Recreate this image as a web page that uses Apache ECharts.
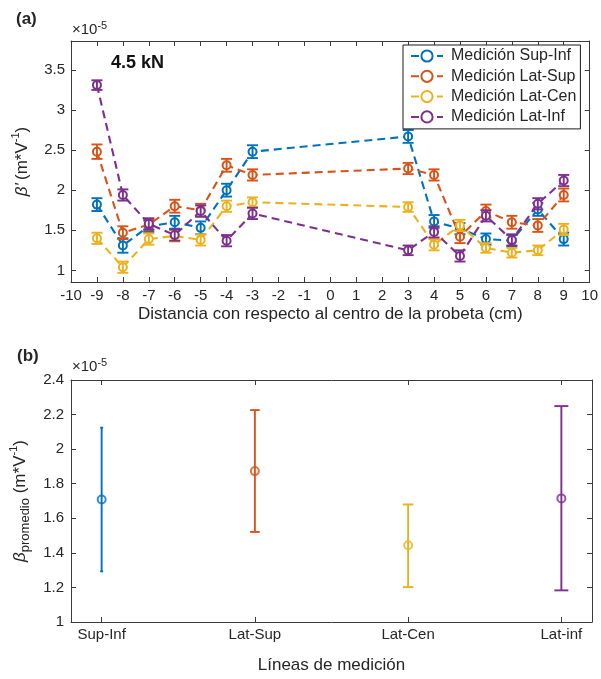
<!DOCTYPE html>
<html>
<head>
<meta charset="utf-8">
<script src="https://cdn.jsdelivr.net/npm/echarts@6/dist/echarts.min.js"></script>
<style>
html,body{margin:0;padding:0;background:#fff;}
#chart{width:601px;height:679px;}
</style>
</head>
<body>
<div id="chart"></div>
<script>
// ---------- DATA (values in units of 1e-5 m*V^-1) ----------
const positions = [-9, -8, -7, -6, -5, -4, -3, 3, 4, 5, 6, 7, 8, 9];
const supInf = [1.82, 1.31, 1.55, 1.60, 1.53, 2.00, 2.48, 2.67, 1.61, 1.52, 1.39, 1.37, 1.76, 1.39];
const latSup = [2.48, 1.47, 1.57, 1.80, 1.75, 2.31, 2.19, 2.27, 2.19, 1.42, 1.74, 1.60, 1.56, 1.94];
const latCen = [1.40, 1.04, 1.39, 1.43, 1.38, 1.80, 1.85, 1.79, 1.32, 1.56, 1.28, 1.22, 1.25, 1.51];
const latInf = [3.31, 1.94, 1.58, 1.44, 1.74, 1.37, 1.71, 1.25, 1.48, 1.18, 1.68, 1.38, 1.83, 2.12];
const errSupInf = [0.08, 0.09, 0.07, 0.08, 0.08, 0.08, 0.08, 0.08, 0.08, 0.07, 0.07, 0.07, 0.08, 0.08];
const errLatSup = [0.09, 0.08, 0.07, 0.08, 0.08, 0.08, 0.07, 0.07, 0.07, 0.08, 0.08, 0.08, 0.08, 0.08];
const errLatCen = [0.07, 0.07, 0.07, 0.07, 0.07, 0.07, 0.06, 0.06, 0.07, 0.07, 0.06, 0.06, 0.06, 0.07];
const errLatInf = [0.06, 0.07, 0.07, 0.07, 0.07, 0.07, 0.07, 0.06, 0.07, 0.07, 0.07, 0.07, 0.07, 0.07];
const seriesNames = ['Medición Sup-Inf', 'Medición Lat-Sup', 'Medición Lat-Cen', 'Medición Lat-Inf'];
const xTicksTop = [-10, -9, -8, -7, -6, -5, -4, -3, -2, -1, 0, 1, 2, 3, 4, 5, 6, 7, 8, 9, 10];
const yTicksTop = [1, 1.5, 2, 2.5, 3, 3.5];

const lineNames = ['Sup-Inf', 'Lat-Sup', 'Lat-Cen', 'Lat-inf'];
const avgBeta = [1.709, 1.873, 1.444, 1.715];
const avgLow = [1.293, 1.521, 1.202, 1.183];
const avgHigh = [2.124, 2.226, 1.680, 2.249];
const yTicksBottom = [1, 1.2, 1.4, 1.6, 1.8, 2, 2.2, 2.4];

// ---------- STYLE ----------
const colors = ['#0072BD', '#D95319', '#EDB120', '#7E2F8E'];
const FONT = 'Liberation Sans, Arial, Helvetica, sans-serif';
const TXT = '#262626';
const AX = '#3a3a3a';
const capHalfBottom = [1.5, 4.8, 5.3, 7];

const chart = echarts.init(document.getElementById('chart'), null, {renderer: 'canvas'});

function errRender(capFn) {
  return function (params, api) {
    const x = api.value(0), lo = api.value(1), hi = api.value(2);
    const pLo = api.coord([x, lo]);
    const pHi = api.coord([x, hi]);
    const cap = capFn(params.dataIndex);
    const style = {stroke: api.visual('color'), lineWidth: 1.9, fill: null};
    return {
      type: 'group',
      children: [
        {type: 'line', shape: {x1: pLo[0], y1: pLo[1], x2: pHi[0], y2: pHi[1]}, style: style},
        {type: 'line', shape: {x1: pLo[0] - cap, y1: pLo[1], x2: pLo[0] + cap, y2: pLo[1]}, style: style},
        {type: 'line', shape: {x1: pHi[0] - cap, y1: pHi[1], x2: pHi[0] + cap, y2: pHi[1]}, style: style}
      ]
    };
  };
}

const valsTop = [supInf, latSup, latCen, latInf];
const errsTop = [errSupInf, errLatSup, errLatCen, errLatInf];

const series = [];
valsTop.forEach(function (vals, k) {
  series.push({
    name: seriesNames[k],
    type: 'line',
    xAxisIndex: 0, yAxisIndex: 0,
    data: positions.map(function (p, i) { return [p, vals[i]]; }),
    symbol: 'emptyCircle',
    symbolSize: 8,
    color: colors[k],
    itemStyle: {color: colors[k], borderWidth: 1.8},
    lineStyle: {color: colors[k], width: 2.1, type: [8, 5]},
    z: 2 + k * 2,
    silent: true
  });
  series.push({
    name: 'err' + k,
    type: 'custom',
    xAxisIndex: 0, yAxisIndex: 0,
    data: positions.map(function (p, i) { return [p, vals[i] - errsTop[k][i], vals[i] + errsTop[k][i]]; }),
    encode: {x: 0, y: [1, 2]},
    itemStyle: {color: colors[k]},
    renderItem: errRender(function () { return 5.5; }),
    z: 3 + k * 2,
    silent: true
  });
});

series.push({
  name: 'promedio',
  type: 'scatter',
  xAxisIndex: 2, yAxisIndex: 2,
  data: avgBeta.map(function (v, i) { return {value: [i + 1, v], itemStyle: {color: colors[i]}}; }),
  symbol: 'emptyCircle',
  symbolSize: 8,
  itemStyle: {borderWidth: 1.9},
  z: 2,
  silent: true
});
series.push({
  name: 'promedioErr',
  type: 'custom',
  xAxisIndex: 2, yAxisIndex: 2,
  data: avgBeta.map(function (v, i) { return {value: [i + 1, avgLow[i], avgHigh[i]], itemStyle: {color: colors[i]}}; }),
  encode: {x: 0, y: [1, 2]},
  renderItem: errRender(function (i) { return capHalfBottom[i]; }),
  z: 3,
  silent: true
});

const axisLineStyle = {show: true, onZero: false, lineStyle: {color: AX, width: 1}};
const labelStyle = {color: TXT, fontFamily: FONT, fontSize: 15};
const tickStyle = {show: true, inside: true, length: 5, lineStyle: {color: AX, width: 1}};

const supRich = {
  n: {fontFamily: FONT, fontSize: 17, color: TXT, lineHeight: 24},
  b: {fontFamily: FONT, fontSize: 17, color: TXT, fontStyle: 'italic', lineHeight: 24},
  s: {fontFamily: FONT, fontSize: 11, color: TXT, lineHeight: 12, verticalAlign: 'top'},
  sub: {fontFamily: FONT, fontSize: 13, color: TXT, lineHeight: 13, verticalAlign: 'bottom'}
};

const option = {
  backgroundColor: '#fff',
  animation: false,
  textStyle: {fontFamily: FONT},
  grid: [
    {left: 71, top: 41, right: 9, height: 241, containLabel: false},
    {left: 71, top: 380, right: 9, height: 242, containLabel: false}
  ],
  legend: {
    data: seriesNames,
    orient: 'vertical',
    left: 403, top: 45,
    padding: [3, 4, 4, 7],
    itemGap: 4.3,
    itemWidth: 32,
    itemHeight: 14,
    borderColor: '#1a1a1a',
    borderWidth: 1,
    backgroundColor: '#fff',
    textStyle: {fontFamily: FONT, fontSize: 16, color: TXT, lineHeight: 14, padding: [0, 0, 0, 3]},
    selectedMode: false,
    z: 10
  },
  xAxis: [
    {
      gridIndex: 0, type: 'value', position: 'bottom', min: -10, max: 10, interval: 1,
      axisLine: axisLineStyle, axisTick: tickStyle, splitLine: {show: false},
      axisLabel: Object.assign({margin: 6, customValues: xTicksTop}, labelStyle),
      name: 'Distancia con respecto al centro de la probeta (cm)',
      nameLocation: 'middle', nameGap: 24,
      nameTextStyle: {fontFamily: FONT, fontSize: 17, color: TXT, verticalAlign: 'top'}
    },
    {
      gridIndex: 0, type: 'value', position: 'top', min: -10, max: 10, interval: 1,
      axisLine: axisLineStyle, axisTick: tickStyle, axisLabel: {show: false}, splitLine: {show: false}
    },
    {
      gridIndex: 1, type: 'value', position: 'bottom', min: 0.8, max: 4.2,
      axisLine: axisLineStyle, splitLine: {show: false},
      axisTick: Object.assign({customValues: [1, 2, 3, 4]}, tickStyle),
      axisLabel: Object.assign({margin: 5, customValues: [1, 2, 3, 4],
        formatter: function (v) { return lineNames[Math.round(v) - 1] || ''; }}, labelStyle),
      name: 'Líneas de medición',
      nameLocation: 'middle', nameGap: 35,
      nameTextStyle: {fontFamily: FONT, fontSize: 17, color: TXT, verticalAlign: 'top'}
    },
    {
      gridIndex: 1, type: 'value', position: 'top', min: 0.8, max: 4.2,
      axisLine: axisLineStyle, splitLine: {show: false},
      axisTick: Object.assign({customValues: [1, 2, 3, 4]}, tickStyle),
      axisLabel: {show: false}
    }
  ],
  yAxis: [
    {
      gridIndex: 0, type: 'value', position: 'left', min: 0.855, max: 3.86,
      axisLine: axisLineStyle, splitLine: {show: false},
      axisTick: Object.assign({customValues: yTicksTop}, tickStyle),
      axisLabel: Object.assign({margin: 6, customValues: yTicksTop}, labelStyle),
      name: "{b|β'} {n|(m*V}{s|-1}{n|)}",
      nameLocation: 'middle', nameRotate: 90, nameGap: 37,
      nameTextStyle: {rich: supRich}
    },
    {
      gridIndex: 0, type: 'value', position: 'right', min: 0.855, max: 3.86,
      axisLine: axisLineStyle, splitLine: {show: false},
      axisTick: Object.assign({customValues: yTicksTop}, tickStyle),
      axisLabel: {show: false}
    },
    {
      gridIndex: 1, type: 'value', position: 'left', min: 1, max: 2.4, interval: 0.2,
      axisLine: axisLineStyle, splitLine: {show: false},
      axisTick: Object.assign({customValues: yTicksBottom}, tickStyle),
      axisLabel: Object.assign({margin: 7, customValues: yTicksBottom}, labelStyle),
      name: '{b|β}{sub|promedio}{n| (m*V}{s|-1}{n|)}',
      nameLocation: 'middle', nameRotate: 90, nameGap: 37,
      nameTextStyle: {rich: supRich}
    },
    {
      gridIndex: 1, type: 'value', position: 'right', min: 1, max: 2.4, interval: 0.2,
      axisLine: axisLineStyle, splitLine: {show: false},
      axisTick: Object.assign({customValues: yTicksBottom}, tickStyle),
      axisLabel: {show: false}
    }
  ],
  graphic: [
    {type: 'text', left: 16, top: 11, style: {text: '(a)', font: 'bold 17px ' + FONT, fill: TXT}},
    {type: 'text', left: 17, top: 348, style: {text: '(b)', font: 'bold 17px ' + FONT, fill: TXT}},
    {type: 'text', left: 111, top: 54, z: 20, style: {text: '4.5 kN', font: 'bold 18px ' + FONT, fill: '#111'}},
    {type: 'text', left: 72, top: 20, style: {text: '{a|×10}{s|-5}', rich: {
      a: {fontFamily: FONT, fontSize: 15, fill: TXT, color: TXT, lineHeight: 20},
      s: {fontFamily: FONT, fontSize: 11, fill: TXT, color: TXT, lineHeight: 11, verticalAlign: 'top'}}}},
    {type: 'text', left: 72, top: 357, style: {text: '{a|×10}{s|-5}', rich: {
      a: {fontFamily: FONT, fontSize: 15, fill: TXT, color: TXT, lineHeight: 20},
      s: {fontFamily: FONT, fontSize: 11, fill: TXT, color: TXT, lineHeight: 11, verticalAlign: 'top'}}}}
  ],
  series: series
};

chart.setOption(option);
</script>
</body>
</html>
